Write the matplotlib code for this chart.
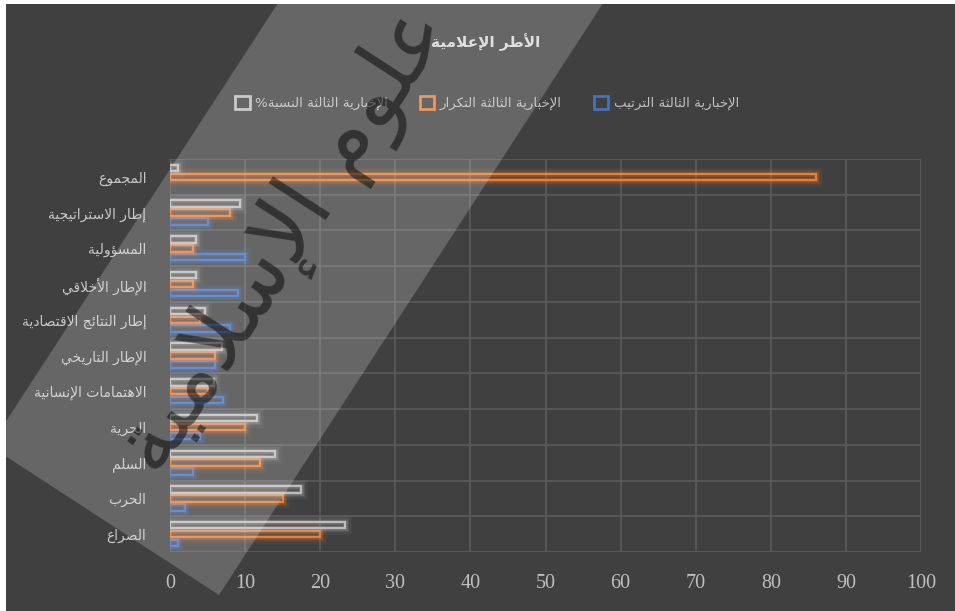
import numpy as np
import matplotlib
matplotlib.use("Agg")
import matplotlib.pyplot as plt
import matplotlib.patheffects as pe
from matplotlib.patches import Rectangle, Polygon

# ---------------- data ----------------
categories = ['الصراع', 'الحرب', 'السلم', 'الحرية', 'الاهتمامات الإنسانية',
              'الإطار التاريخي', 'إطار النتائج الاقتصادية', 'الإطار الأخلاقي',
              'المسؤولية', 'إطار الاستراتيجية', 'المجموع']
rank_vals = [1, 2, 3, 4, 7, 6, 8, 9, 10, 5, np.nan]
freq_vals = [20, 15, 12, 10, 5, 6, 4, 3, 3, 8, 86]
pct_vals = [23.26, 17.44, 13.95, 11.63, 5.81, 6.98, 4.65, 3.49, 3.49, 9.30, 1]
series_names = ['الإخبارية الثالثة الترتيب', 'الإخبارية الثالثة التكرار',
                'الإخبارية الثالثة النسبة%']
title_text = 'الأطر الإعلامية'
watermark_text = 'علوم الإسلامية'
x_ticks = list(range(0, 101, 10))

# ---------------- minimal Arabic shaping ----------------
DUAL = {'ئ': 0xFE89, 'ب': 0xFE8F, 'ت': 0xFE95, 'ث': 0xFE99, 'ج': 0xFE9D,
        'ح': 0xFEA1, 'خ': 0xFEA5, 'س': 0xFEB1, 'ش': 0xFEB5, 'ص': 0xFEB9,
        'ض': 0xFEBD, 'ط': 0xFEC1, 'ظ': 0xFEC5, 'ع': 0xFEC9, 'غ': 0xFECD,
        'ف': 0xFED1, 'ق': 0xFED5, 'ك': 0xFED9, 'ل': 0xFEDD, 'م': 0xFEE1,
        'ن': 0xFEE5, 'ه': 0xFEE9, 'ي': 0xFEF1}
RIGHT = {'آ': 0xFE81, 'أ': 0xFE83, 'ؤ': 0xFE85, 'إ': 0xFE87, 'ا': 0xFE8D,
         'ة': 0xFE93, 'د': 0xFEA9, 'ذ': 0xFEAB, 'ر': 0xFEAD, 'ز': 0xFEAF,
         'و': 0xFEED, 'ى': 0xFEEF}
LAMALEF = {'آ': 0xFEF5, 'أ': 0xFEF7, 'إ': 0xFEF9, 'ا': 0xFEFB}


def ar(text):
    ch = list(text)
    n = len(ch)
    out = []
    i = 0
    while i < n:
        c = ch[i]
        prev = ch[i - 1] if i > 0 else None
        cp = prev in DUAL and (c in DUAL or c in RIGHT)
        if c == 'ل' and i + 1 < n and ch[i + 1] in LAMALEF:
            b = LAMALEF[ch[i + 1]]
            out.append(chr(b + 1 if cp else b))
            i += 2
            continue
        nxt = ch[i + 1] if i + 1 < n else None
        cn = c in DUAL and (nxt in DUAL or nxt in RIGHT)
        if c in DUAL:
            b = DUAL[c]
            if cp and cn:
                out.append(chr(b + 3))
            elif cn:
                out.append(chr(b + 2))
            elif cp:
                out.append(chr(b + 1))
            else:
                out.append(chr(b))
        elif c in RIGHT:
            b = RIGHT[c]
            out.append(chr(b + 1 if cp else b))
        elif c == 'ء':
            out.append(chr(0xFE80))
        else:
            out.append(c)
        i += 1
    return ''.join(out)[::-1]


# ---------------- figure ----------------
W, H = 955, 611
fig = plt.figure(figsize=(W / 100, H / 100), dpi=100, facecolor='white')
BG = '#404040'
bg = Rectangle((6 / W, 0), 1 - 6 / W, 1 - 4 / H, transform=fig.transFigure,
               facecolor=BG, edgecolor='none', zorder=-5)
fig.patches.append(bg)

ax = fig.add_axes([170 / W, 1 - 552 / H, (921 - 170) / W, (552 - 159) / H])
ax.set_facecolor('none')
for s in ax.spines.values():
    s.set_visible(False)

y = np.arange(len(categories))
colors = ['#4472C4', '#ED7D31', '#BDBDBD']
offsets = [-0.25, 0.0, 0.25]
h = 0.18
for vals, col, off in zip([rank_vals, freq_vals, pct_vals], colors, offsets):
    glow = [pe.Stroke(linewidth=9, foreground=col, alpha=0.07),
            pe.Stroke(linewidth=6, foreground=col, alpha=0.12),
            pe.Stroke(linewidth=3.5, foreground=col, alpha=0.2),
            pe.Normal()]
    v = np.array(vals, dtype=float)
    mask = ~np.isnan(v)
    ax.barh(y[mask] + off, v[mask], height=h, facecolor='none', edgecolor=col,
            linewidth=1.6, path_effects=glow, zorder=3)

ax.set_xlim(0, 100)
ax.set_ylim(-0.5, len(categories) - 0.5)
ax.set_xticks(x_ticks)
ax.set_xticklabels([str(t) for t in x_ticks], fontfamily='Liberation Serif',
                   fontsize=14.5, color='#BFBFBF')
ax.set_yticks(y)
ax.set_yticklabels([ar(c) for c in categories], fontfamily='DejaVu Sans',
                   fontsize=10, color='#C8C8C8')
ax.set_yticks(np.arange(-0.5, len(categories), 1.0), minor=True)
ax.tick_params(axis='both', which='both', length=0)
ax.tick_params(axis='x', pad=16)
ax.tick_params(axis='y', pad=17)
ax.grid(True, axis='x', which='major', color='#595959', linewidth=1.3, zorder=1)
ax.grid(True, axis='y', which='minor', color='#595959', linewidth=1.3, zorder=1)
ax.set_axisbelow(True)

# legend (RTL order: percentage, frequency, rank)
handles = [Rectangle((0, 0), 1, 1, facecolor='none', edgecolor=c, linewidth=2)
           for c in colors]
order = [2, 1, 0]
leg = fig.legend([handles[i] for i in order], [ar(series_names[i]) for i in order],
                 loc='center', bbox_to_anchor=(487 / W, 1 - 103 / H), ncol=3,
                 frameon=False, handlelength=1.1, handleheight=1.1,
                 handletextpad=0.4, columnspacing=2.4,
                 prop={'family': 'DejaVu Sans', 'size': 9.6})
for t in leg.get_texts():
    t.set_color('#BFBFBF')


# watermark band overlay
def fp(px, py):
    return (px / W, 1 - py / H)


band = Polygon([fp(345, -100), fp(670, -100), fp(219, 595), fp(-10, 446)],
               closed=True, transform=fig.transFigure, facecolor='white',
               edgecolor='none', alpha=0.2, zorder=10)
band.set_clip_path(bg)
fig.patches.append(band)
fig.text(285 / W, 1 - 240 / H, ar(watermark_text), ha='center', va='center',
         rotation=57, rotation_mode='anchor', fontfamily='DejaVu Sans',
         fontsize=64, color='black', alpha=0.5, zorder=11)

# title (drawn above the watermark)
fig.text(486 / W, 1 - 42 / H, ar(title_text), ha='center', va='center',
         fontfamily='DejaVu Sans', fontsize=11, fontweight='bold', color='#E0E0E0',
         zorder=12)

fig.savefig('out.png', dpi=100, facecolor='white')
